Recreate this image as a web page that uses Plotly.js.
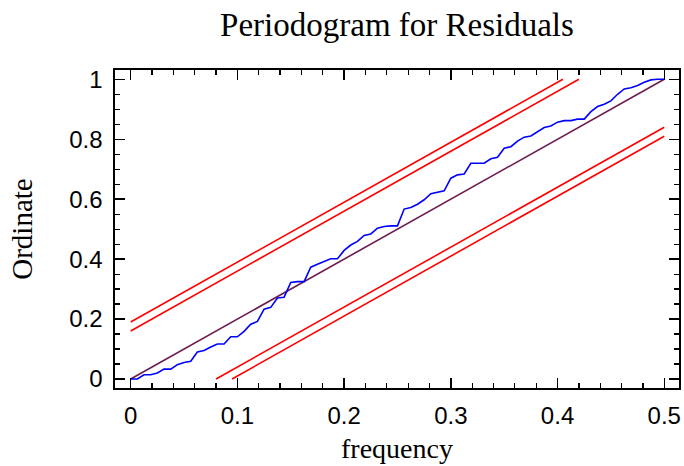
<!DOCTYPE html>
<html><head><meta charset="utf-8">
<script src="https://cdn.plot.ly/plotly-3.0.1.min.js"></script>
<style>html,body{margin:0;padding:0;background:#fff;}#chart{width:684px;height:466px;}</style>
</head><body><div id="chart"></div>
<script>
const frequency = [0, 0.00625, 0.0125, 0.01875, 0.025, 0.03125, 0.0375, 0.04375, 0.05, 0.05625,
  0.0625, 0.06875, 0.075, 0.08125, 0.0875, 0.09375, 0.1, 0.10625, 0.1125, 0.11875,
  0.125, 0.13125, 0.1375, 0.14375, 0.15, 0.15625, 0.1625, 0.16875, 0.175, 0.18125,
  0.1875, 0.19375, 0.2, 0.20625, 0.2125, 0.21875, 0.225, 0.23125, 0.2375, 0.24375,
  0.25, 0.25625, 0.2625, 0.26875, 0.275, 0.28125, 0.2875, 0.29375, 0.3, 0.30625,
  0.3125, 0.31875, 0.325, 0.33125, 0.3375, 0.34375, 0.35, 0.35625, 0.3625, 0.36875,
  0.375, 0.38125, 0.3875, 0.39375, 0.4, 0.40625, 0.4125, 0.41875, 0.425, 0.43125,
  0.4375, 0.44375, 0.45, 0.45625, 0.4625, 0.46875, 0.475, 0.48125, 0.4875, 0.49375, 0.5];
const ordinate = [0, 0, 0.014, 0.014, 0.02, 0.033, 0.033, 0.048, 0.055, 0.059,
  0.09, 0.095, 0.107, 0.117, 0.117, 0.141, 0.141, 0.159, 0.183, 0.192,
  0.233, 0.239, 0.27, 0.273, 0.322, 0.325, 0.325, 0.373, 0.383, 0.392,
  0.401, 0.401, 0.429, 0.447, 0.459, 0.479, 0.484, 0.503, 0.509, 0.511,
  0.511, 0.567, 0.572, 0.583, 0.598, 0.618, 0.622, 0.628, 0.67, 0.681,
  0.684, 0.72, 0.72, 0.72, 0.735, 0.74, 0.77, 0.775, 0.794, 0.807,
  0.811, 0.826, 0.839, 0.844, 0.857, 0.862, 0.862, 0.867, 0.867, 0.892,
  0.909, 0.917, 0.928, 0.95, 0.968, 0.972, 0.979, 0.99, 0.998, 1.0, 1.0];
const diagonalX = [0, 0.5];
const diagonalY = [0, 1];
const upperOuterX = [0, 0.405];
const upperOuterY = [0.19, 1];
const upperInnerX = [0, 0.42];
const upperInnerY = [0.16, 1];
const lowerInnerX = [0.08, 0.5];
const lowerInnerY = [0, 0.84];
const lowerOuterX = [0.095, 0.5];
const lowerOuterY = [0, 0.81];
const xTicks = [0, 0.1, 0.2, 0.3, 0.4, 0.5];
const yTicks = [0, 0.2, 0.4, 0.6, 0.8, 1];

const red = '#FF0000';
const serif = 'Liberation Serif, Times New Roman, serif';
function band(x, y, name) {
  return {x: x, y: y, mode: 'lines', name: name, line: {color: red, width: 1.6}, hoverinfo: 'skip'};
}
const traces = [
  band(upperOuterX, upperOuterY, 'upper limit 1'),
  band(upperInnerX, upperInnerY, 'upper limit 2'),
  band(lowerInnerX, lowerInnerY, 'lower limit 2'),
  band(lowerOuterX, lowerOuterY, 'lower limit 1'),
  {x: diagonalX, y: diagonalY, mode: 'lines', name: 'reference', line: {color: '#6E1C4E', width: 1.6}},
  {x: frequency, y: ordinate, mode: 'lines', name: 'cumulative periodogram', line: {color: '#0000FF', width: 1.6}}
];

const axisCommon = {
  showgrid: false, zeroline: false, showline: true, linecolor: '#000', linewidth: 1.6,
  mirror: 'ticks', ticks: 'inside', ticklen: 10, tickwidth: 1.4, tickcolor: '#000',
  ticklabelstandoff: 6, automargin: false,
  tickfont: {family: 'Liberation Sans, Arial, sans-serif', size: 24, color: '#000'}
};
const layout = {
  width: 684, height: 466,
  margin: {l: 115, r: 5, t: 70, b: 78},
  paper_bgcolor: '#fff', plot_bgcolor: '#fff',
  showlegend: false,
  title: {text: 'Periodogram for Residuals', x: 0.5, xref: 'paper', xanchor: 'center',
          y: 1 - 24/466, yref: 'container', yanchor: 'middle',
          font: {family: serif, size: 33, color: '#000'}},
  xaxis: Object.assign({}, axisCommon, {
    range: [-0.0147, 0.5138], tickvals: xTicks, ticktext: xTicks.map(String),
    minor: {dtick: 0.02, tick0: 0, ticks: 'inside', ticklen: 5, tickwidth: 1.2, tickcolor: '#000'},
    title: {text: 'frequency', standoff: 10, font: {family: serif, size: 28, color: '#000'}}
  }),
  yaxis: Object.assign({}, axisCommon, {
    range: [-0.03, 1.031], tickvals: yTicks, ticktext: yTicks.map(String),
    minor: {dtick: 0.05, tick0: 0, ticks: 'inside', ticklen: 5, tickwidth: 1.2, tickcolor: '#000'},
    title: {text: 'Ordinate', standoff: 28, font: {family: serif, size: 29, color: '#000'}}
  })
};
Plotly.newPlot('chart', traces, layout, {displayModeBar: false, staticPlot: true});
</script>
</body></html>
